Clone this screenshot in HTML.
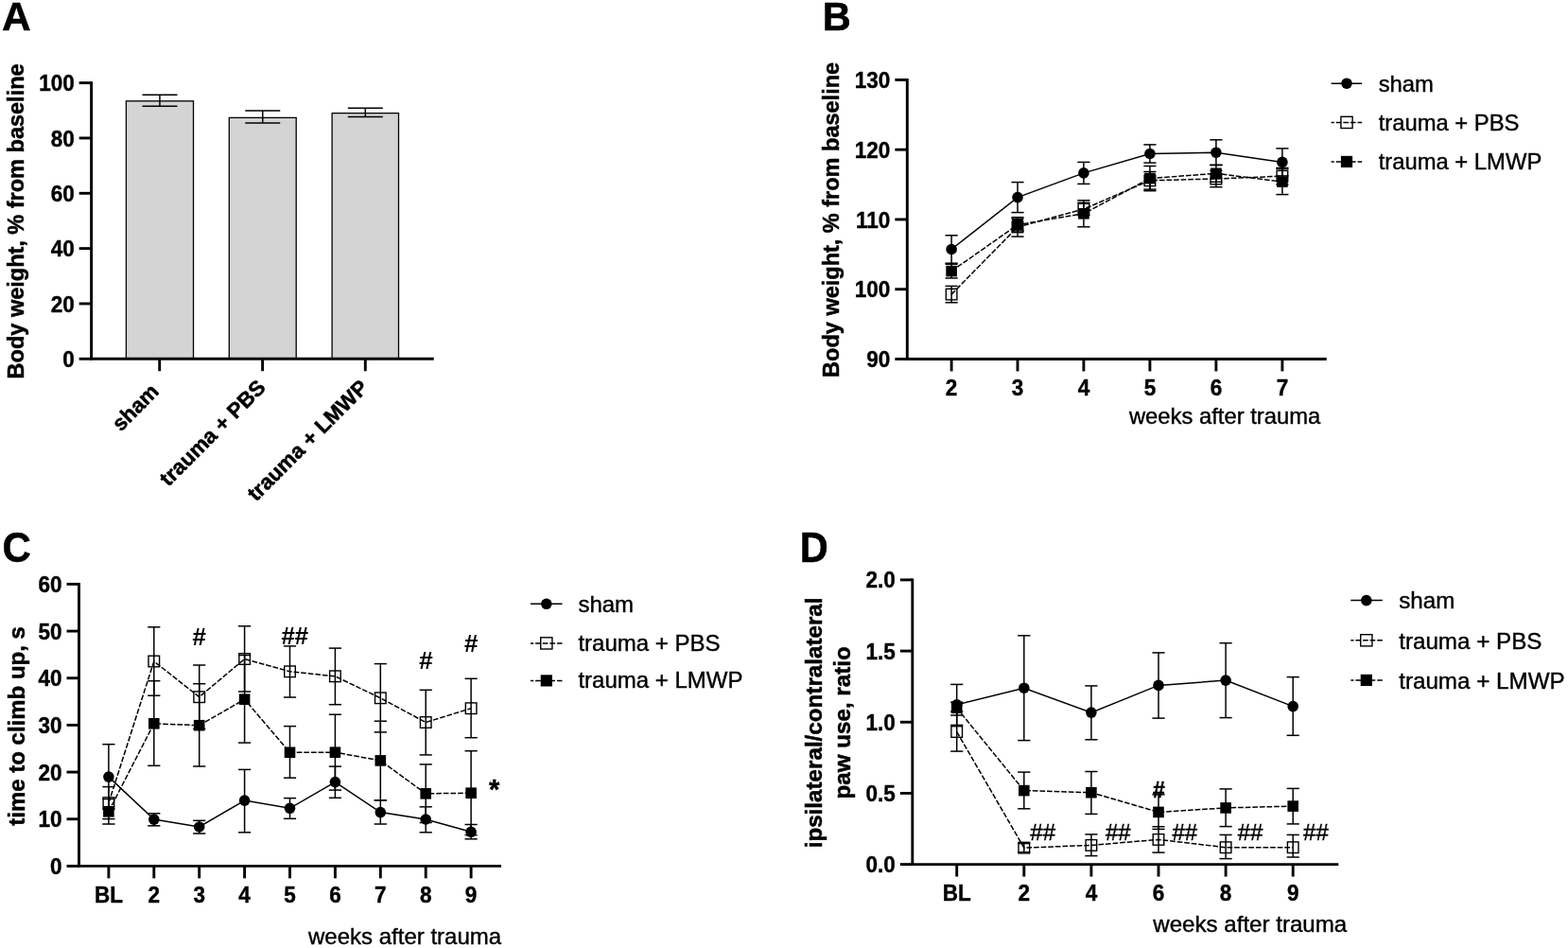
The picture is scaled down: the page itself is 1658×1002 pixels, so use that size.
<!DOCTYPE html>
<html lang="en"><head><meta charset="utf-8"><title>Figure</title>
<style>
html,body{margin:0;padding:0;background:#fff;}
body{width:1658px;height:1002px;overflow:hidden;}
svg{display:block;font-family:"Liberation Sans",Arial,Helvetica,sans-serif;fill:#000;}
</style></head><body>
<svg width="1658" height="1002" viewBox="0 0 1658 1002">
<rect x="0" y="0" width="1658" height="1002" fill="#fff"/>
<text transform="translate(1.90,32.30) scale(1,1.02)" font-size="42.5" font-weight="bold" stroke="#000" stroke-width="0.5" text-anchor="start" >A</text>
<text transform="translate(869.70,32.30) scale(1,1.04)" font-size="41.5" font-weight="bold" stroke="#000" stroke-width="0.5" text-anchor="start" >B</text>
<text transform="translate(2.40,593.60) scale(1,1.05)" font-size="42" font-weight="bold" stroke="#000" stroke-width="0.5" text-anchor="start" >C</text>
<text transform="translate(845.80,593.50) scale(1,1.06)" font-size="41.5" font-weight="bold" stroke="#000" stroke-width="0.5" text-anchor="start" >D</text>
<g id="panelA">
<rect x="133.40" y="106.80" width="71.10" height="272.50" fill="#d4d4d4" stroke="#000" stroke-width="1.3"/>
<line x1="168.95" y1="100.30" x2="168.95" y2="112.30" stroke="#000" stroke-width="1.5" />
<line x1="150.45" y1="100.30" x2="187.45" y2="100.30" stroke="#000" stroke-width="1.5" />
<line x1="150.45" y1="112.30" x2="187.45" y2="112.30" stroke="#000" stroke-width="1.5" />
<rect x="242.30" y="124.40" width="70.90" height="254.90" fill="#d4d4d4" stroke="#000" stroke-width="1.3"/>
<line x1="277.75" y1="117.10" x2="277.75" y2="130.10" stroke="#000" stroke-width="1.5" />
<line x1="259.25" y1="117.10" x2="296.25" y2="117.10" stroke="#000" stroke-width="1.5" />
<line x1="259.25" y1="130.10" x2="296.25" y2="130.10" stroke="#000" stroke-width="1.5" />
<rect x="351.10" y="119.60" width="70.40" height="259.70" fill="#d4d4d4" stroke="#000" stroke-width="1.3"/>
<line x1="386.30" y1="114.20" x2="386.30" y2="123.60" stroke="#000" stroke-width="1.5" />
<line x1="367.80" y1="114.20" x2="404.80" y2="114.20" stroke="#000" stroke-width="1.5" />
<line x1="367.80" y1="123.60" x2="404.80" y2="123.60" stroke="#000" stroke-width="1.5" />
<line x1="96.60" y1="86.15" x2="96.60" y2="380.75" stroke="#000" stroke-width="2.9" />
<line x1="83.65" y1="87.60" x2="96.60" y2="87.60" stroke="#000" stroke-width="2.9" />
<text transform="translate(78.65,96.18) scale(1,1.04)" font-size="22.5" font-weight="bold" stroke="#000" stroke-width="0.4" text-anchor="end" >100</text>
<line x1="83.65" y1="145.94" x2="96.60" y2="145.94" stroke="#000" stroke-width="2.9" />
<text transform="translate(78.65,154.52) scale(1,1.04)" font-size="22.5" font-weight="bold" stroke="#000" stroke-width="0.4" text-anchor="end" >80</text>
<line x1="83.65" y1="204.28" x2="96.60" y2="204.28" stroke="#000" stroke-width="2.9" />
<text transform="translate(78.65,212.86) scale(1,1.04)" font-size="22.5" font-weight="bold" stroke="#000" stroke-width="0.4" text-anchor="end" >60</text>
<line x1="83.65" y1="262.62" x2="96.60" y2="262.62" stroke="#000" stroke-width="2.9" />
<text transform="translate(78.65,271.20) scale(1,1.04)" font-size="22.5" font-weight="bold" stroke="#000" stroke-width="0.4" text-anchor="end" >40</text>
<line x1="83.65" y1="320.96" x2="96.60" y2="320.96" stroke="#000" stroke-width="2.9" />
<text transform="translate(78.65,329.54) scale(1,1.04)" font-size="22.5" font-weight="bold" stroke="#000" stroke-width="0.4" text-anchor="end" >20</text>
<line x1="83.65" y1="379.30" x2="96.60" y2="379.30" stroke="#000" stroke-width="2.9" />
<text transform="translate(78.65,387.88) scale(1,1.04)" font-size="22.5" font-weight="bold" stroke="#000" stroke-width="0.4" text-anchor="end" >0</text>
<line x1="95.15" y1="379.30" x2="458.70" y2="379.30" stroke="#000" stroke-width="2.9" />
<line x1="168.70" y1="379.30" x2="168.70" y2="392.25" stroke="#000" stroke-width="2.9" />
<line x1="277.60" y1="379.30" x2="277.60" y2="392.25" stroke="#000" stroke-width="2.9" />
<line x1="386.30" y1="379.30" x2="386.30" y2="392.25" stroke="#000" stroke-width="2.9" />
<text transform="translate(169.2,415.2) rotate(-45)" font-size="22.5" font-weight="bold" stroke="#000" stroke-width="0.5" text-anchor="end">sham</text>
<text transform="translate(282.0,411.0) rotate(-45)" font-size="22.5" font-weight="bold" stroke="#000" stroke-width="0.5" text-anchor="end">trauma + PBS</text>
<text transform="translate(390.5,411.0) rotate(-45)" font-size="22.5" font-weight="bold" stroke="#000" stroke-width="0.5" text-anchor="end">trauma + LMWP</text>
<text transform="translate(25.2,233.9) rotate(-90)" font-size="23.5" font-weight="bold" stroke="#000" stroke-width="0.5" text-anchor="middle">Body weight, % from baseline</text>
</g>
<g id="panelB">
<line x1="959.30" y1="82.95" x2="959.30" y2="380.95" stroke="#000" stroke-width="2.9" />
<line x1="946.35" y1="84.40" x2="959.30" y2="84.40" stroke="#000" stroke-width="2.9" />
<text transform="translate(941.35,92.98) scale(1,1.04)" font-size="22.5" font-weight="bold" stroke="#000" stroke-width="0.4" text-anchor="end" >130</text>
<line x1="946.35" y1="158.18" x2="959.30" y2="158.18" stroke="#000" stroke-width="2.9" />
<text transform="translate(941.35,166.75) scale(1,1.04)" font-size="22.5" font-weight="bold" stroke="#000" stroke-width="0.4" text-anchor="end" >120</text>
<line x1="946.35" y1="231.95" x2="959.30" y2="231.95" stroke="#000" stroke-width="2.9" />
<text transform="translate(941.35,240.53) scale(1,1.04)" font-size="22.5" font-weight="bold" stroke="#000" stroke-width="0.4" text-anchor="end" >110</text>
<line x1="946.35" y1="305.73" x2="959.30" y2="305.73" stroke="#000" stroke-width="2.9" />
<text transform="translate(941.35,314.30) scale(1,1.04)" font-size="22.5" font-weight="bold" stroke="#000" stroke-width="0.4" text-anchor="end" >100</text>
<line x1="946.35" y1="379.50" x2="959.30" y2="379.50" stroke="#000" stroke-width="2.9" />
<text transform="translate(941.35,388.08) scale(1,1.04)" font-size="22.5" font-weight="bold" stroke="#000" stroke-width="0.4" text-anchor="end" >90</text>
<line x1="957.85" y1="379.50" x2="1402.70" y2="379.50" stroke="#000" stroke-width="2.9" />
<line x1="1006.10" y1="379.50" x2="1006.10" y2="392.45" stroke="#000" stroke-width="2.9" />
<text transform="translate(1006.10,417.60) scale(1,1.04)" font-size="22.5" font-weight="bold" stroke="#000" stroke-width="0.4" text-anchor="middle" >2</text>
<line x1="1076.00" y1="379.50" x2="1076.00" y2="392.45" stroke="#000" stroke-width="2.9" />
<text transform="translate(1076.00,417.60) scale(1,1.04)" font-size="22.5" font-weight="bold" stroke="#000" stroke-width="0.4" text-anchor="middle" >3</text>
<line x1="1145.90" y1="379.50" x2="1145.90" y2="392.45" stroke="#000" stroke-width="2.9" />
<text transform="translate(1145.90,417.60) scale(1,1.04)" font-size="22.5" font-weight="bold" stroke="#000" stroke-width="0.4" text-anchor="middle" >4</text>
<line x1="1215.90" y1="379.50" x2="1215.90" y2="392.45" stroke="#000" stroke-width="2.9" />
<text transform="translate(1215.90,417.60) scale(1,1.04)" font-size="22.5" font-weight="bold" stroke="#000" stroke-width="0.4" text-anchor="middle" >5</text>
<line x1="1285.90" y1="379.50" x2="1285.90" y2="392.45" stroke="#000" stroke-width="2.9" />
<text transform="translate(1285.90,417.60) scale(1,1.04)" font-size="22.5" font-weight="bold" stroke="#000" stroke-width="0.4" text-anchor="middle" >6</text>
<line x1="1355.90" y1="379.50" x2="1355.90" y2="392.45" stroke="#000" stroke-width="2.9" />
<text transform="translate(1355.90,417.60) scale(1,1.04)" font-size="22.5" font-weight="bold" stroke="#000" stroke-width="0.4" text-anchor="middle" >7</text>
<line x1="1006.10" y1="248.80" x2="1006.10" y2="278.20" stroke="#000" stroke-width="1.5" />
<line x1="999.50" y1="248.80" x2="1012.70" y2="248.80" stroke="#000" stroke-width="1.5" />
<line x1="999.50" y1="278.20" x2="1012.70" y2="278.20" stroke="#000" stroke-width="1.5" />
<line x1="1076.00" y1="192.60" x2="1076.00" y2="224.60" stroke="#000" stroke-width="1.5" />
<line x1="1069.40" y1="192.60" x2="1082.60" y2="192.60" stroke="#000" stroke-width="1.5" />
<line x1="1069.40" y1="224.60" x2="1082.60" y2="224.60" stroke="#000" stroke-width="1.5" />
<line x1="1145.90" y1="171.40" x2="1145.90" y2="194.40" stroke="#000" stroke-width="1.5" />
<line x1="1139.30" y1="171.40" x2="1152.50" y2="171.40" stroke="#000" stroke-width="1.5" />
<line x1="1139.30" y1="194.40" x2="1152.50" y2="194.40" stroke="#000" stroke-width="1.5" />
<line x1="1215.90" y1="152.90" x2="1215.90" y2="172.10" stroke="#000" stroke-width="1.5" />
<line x1="1209.30" y1="152.90" x2="1222.50" y2="152.90" stroke="#000" stroke-width="1.5" />
<line x1="1209.30" y1="172.10" x2="1222.50" y2="172.10" stroke="#000" stroke-width="1.5" />
<line x1="1285.90" y1="147.80" x2="1285.90" y2="174.60" stroke="#000" stroke-width="1.5" />
<line x1="1279.30" y1="147.80" x2="1292.50" y2="147.80" stroke="#000" stroke-width="1.5" />
<line x1="1279.30" y1="174.60" x2="1292.50" y2="174.60" stroke="#000" stroke-width="1.5" />
<line x1="1355.90" y1="156.90" x2="1355.90" y2="185.90" stroke="#000" stroke-width="1.5" />
<line x1="1349.30" y1="156.90" x2="1362.50" y2="156.90" stroke="#000" stroke-width="1.5" />
<line x1="1349.30" y1="185.90" x2="1362.50" y2="185.90" stroke="#000" stroke-width="1.5" />
<polyline points="1006.10,263.50 1076.00,208.60 1145.90,182.90 1215.90,162.50 1285.90,161.20 1355.90,171.40" fill="none" stroke="#000" stroke-width="1.5"/>
<circle cx="1006.10" cy="263.50" r="5.8" fill="#000"/>
<circle cx="1076.00" cy="208.60" r="5.8" fill="#000"/>
<circle cx="1145.90" cy="182.90" r="5.8" fill="#000"/>
<circle cx="1215.90" cy="162.50" r="5.8" fill="#000"/>
<circle cx="1285.90" cy="161.20" r="5.8" fill="#000"/>
<circle cx="1355.90" cy="171.40" r="5.8" fill="#000"/>
<line x1="1006.10" y1="302.40" x2="1006.10" y2="319.80" stroke="#000" stroke-width="1.5" />
<line x1="999.50" y1="302.40" x2="1012.70" y2="302.40" stroke="#000" stroke-width="1.5" />
<line x1="999.50" y1="319.80" x2="1012.70" y2="319.80" stroke="#000" stroke-width="1.5" />
<line x1="1076.00" y1="229.70" x2="1076.00" y2="250.10" stroke="#000" stroke-width="1.5" />
<line x1="1069.40" y1="229.70" x2="1082.60" y2="229.70" stroke="#000" stroke-width="1.5" />
<line x1="1069.40" y1="250.10" x2="1082.60" y2="250.10" stroke="#000" stroke-width="1.5" />
<line x1="1145.90" y1="214.30" x2="1145.90" y2="227.70" stroke="#000" stroke-width="1.5" />
<line x1="1139.30" y1="214.30" x2="1152.50" y2="214.30" stroke="#000" stroke-width="1.5" />
<line x1="1139.30" y1="227.70" x2="1152.50" y2="227.70" stroke="#000" stroke-width="1.5" />
<line x1="1215.90" y1="181.50" x2="1215.90" y2="200.10" stroke="#000" stroke-width="1.5" />
<line x1="1209.30" y1="181.50" x2="1222.50" y2="181.50" stroke="#000" stroke-width="1.5" />
<line x1="1209.30" y1="200.10" x2="1222.50" y2="200.10" stroke="#000" stroke-width="1.5" />
<line x1="1285.90" y1="180.30" x2="1285.90" y2="197.70" stroke="#000" stroke-width="1.5" />
<line x1="1279.30" y1="180.30" x2="1292.50" y2="180.30" stroke="#000" stroke-width="1.5" />
<line x1="1279.30" y1="197.70" x2="1292.50" y2="197.70" stroke="#000" stroke-width="1.5" />
<line x1="1355.90" y1="177.40" x2="1355.90" y2="195.00" stroke="#000" stroke-width="1.5" />
<line x1="1349.30" y1="177.40" x2="1362.50" y2="177.40" stroke="#000" stroke-width="1.5" />
<line x1="1349.30" y1="195.00" x2="1362.50" y2="195.00" stroke="#000" stroke-width="1.5" />
<polyline points="1006.10,311.10 1076.00,239.90 1145.90,221.00 1215.90,190.80 1285.90,189.00 1355.90,186.20" fill="none" stroke="#000" stroke-width="1.5" stroke-dasharray="5.7 1.9"/>
<rect x="1000.30" y="305.30" width="11.6" height="11.6" fill="none" stroke="#000" stroke-width="1.4"/>
<rect x="1070.20" y="234.10" width="11.6" height="11.6" fill="none" stroke="#000" stroke-width="1.4"/>
<rect x="1140.10" y="215.20" width="11.6" height="11.6" fill="none" stroke="#000" stroke-width="1.4"/>
<rect x="1210.10" y="185.00" width="11.6" height="11.6" fill="none" stroke="#000" stroke-width="1.4"/>
<rect x="1280.10" y="183.20" width="11.6" height="11.6" fill="none" stroke="#000" stroke-width="1.4"/>
<rect x="1350.10" y="180.40" width="11.6" height="11.6" fill="none" stroke="#000" stroke-width="1.4"/>
<line x1="1006.10" y1="279.20" x2="1006.10" y2="294.00" stroke="#000" stroke-width="1.5" />
<line x1="999.50" y1="279.20" x2="1012.70" y2="279.20" stroke="#000" stroke-width="1.5" />
<line x1="999.50" y1="294.00" x2="1012.70" y2="294.00" stroke="#000" stroke-width="1.5" />
<line x1="1076.00" y1="231.20" x2="1076.00" y2="244.00" stroke="#000" stroke-width="1.5" />
<line x1="1069.40" y1="231.20" x2="1082.60" y2="231.20" stroke="#000" stroke-width="1.5" />
<line x1="1069.40" y1="244.00" x2="1082.60" y2="244.00" stroke="#000" stroke-width="1.5" />
<line x1="1145.90" y1="211.80" x2="1145.90" y2="239.80" stroke="#000" stroke-width="1.5" />
<line x1="1139.30" y1="211.80" x2="1152.50" y2="211.80" stroke="#000" stroke-width="1.5" />
<line x1="1139.30" y1="239.80" x2="1152.50" y2="239.80" stroke="#000" stroke-width="1.5" />
<line x1="1215.90" y1="175.50" x2="1215.90" y2="201.70" stroke="#000" stroke-width="1.5" />
<line x1="1209.30" y1="175.50" x2="1222.50" y2="175.50" stroke="#000" stroke-width="1.5" />
<line x1="1209.30" y1="201.70" x2="1222.50" y2="201.70" stroke="#000" stroke-width="1.5" />
<line x1="1285.90" y1="174.30" x2="1285.90" y2="192.30" stroke="#000" stroke-width="1.5" />
<line x1="1279.30" y1="174.30" x2="1292.50" y2="174.30" stroke="#000" stroke-width="1.5" />
<line x1="1279.30" y1="192.30" x2="1292.50" y2="192.30" stroke="#000" stroke-width="1.5" />
<line x1="1355.90" y1="178.60" x2="1355.90" y2="205.60" stroke="#000" stroke-width="1.5" />
<line x1="1349.30" y1="178.60" x2="1362.50" y2="178.60" stroke="#000" stroke-width="1.5" />
<line x1="1349.30" y1="205.60" x2="1362.50" y2="205.60" stroke="#000" stroke-width="1.5" />
<polyline points="1006.10,286.60 1076.00,237.60 1145.90,225.80 1215.90,188.60 1285.90,183.30 1355.90,192.10" fill="none" stroke="#000" stroke-width="1.5" stroke-dasharray="5.7 1.9"/>
<rect x="1000.30" y="280.80" width="11.6" height="11.6" fill="#000"/>
<rect x="1070.20" y="231.80" width="11.6" height="11.6" fill="#000"/>
<rect x="1140.10" y="220.00" width="11.6" height="11.6" fill="#000"/>
<rect x="1210.10" y="182.80" width="11.6" height="11.6" fill="#000"/>
<rect x="1280.10" y="177.50" width="11.6" height="11.6" fill="#000"/>
<rect x="1350.10" y="186.30" width="11.6" height="11.6" fill="#000"/>
<text x="1396.30" y="447.80" font-size="23.8" stroke="#000" stroke-width="0.4" text-anchor="end" >weeks after trauma</text>
<text transform="translate(886.6,232.4) rotate(-90)" font-size="23.5" font-weight="bold" stroke="#000" stroke-width="0.5" text-anchor="middle">Body weight, % from baseline</text>
<line x1="1407.60" y1="88.20" x2="1440.20" y2="88.20" stroke="#000" stroke-width="1.5" />
<circle cx="1424.00" cy="88.20" r="5.8" fill="#000"/>
<text x="1457.70" y="96.60" font-size="23.8" stroke="#000" stroke-width="0.4" text-anchor="start" >sham</text>
<line x1="1407.60" y1="129.40" x2="1440.20" y2="129.40" stroke="#000" stroke-width="1.5" stroke-dasharray="5.7 1.9" stroke-dashoffset="2.5"/>
<rect x="1417.90" y="123.30" width="12.2" height="12.2" fill="none" stroke="#000" stroke-width="1.4"/>
<text x="1457.70" y="138.00" font-size="23.8" stroke="#000" stroke-width="0.4" text-anchor="start" >trauma + PBS</text>
<line x1="1407.60" y1="170.90" x2="1440.20" y2="170.90" stroke="#000" stroke-width="1.5" stroke-dasharray="5.7 1.9" stroke-dashoffset="2.5"/>
<rect x="1417.90" y="164.80" width="12.2" height="12.2" fill="#000"/>
<text x="1457.70" y="179.40" font-size="23.8" stroke="#000" stroke-width="0.4" text-anchor="start" >trauma + LMWP</text>
</g>
<g id="panelC">
<line x1="83.50" y1="615.95" x2="83.50" y2="916.85" stroke="#000" stroke-width="2.9" />
<line x1="70.55" y1="617.40" x2="83.50" y2="617.40" stroke="#000" stroke-width="2.9" />
<text transform="translate(65.55,625.98) scale(1,1.04)" font-size="22.5" font-weight="bold" stroke="#000" stroke-width="0.4" text-anchor="end" >60</text>
<line x1="70.55" y1="667.07" x2="83.50" y2="667.07" stroke="#000" stroke-width="2.9" />
<text transform="translate(65.55,675.64) scale(1,1.04)" font-size="22.5" font-weight="bold" stroke="#000" stroke-width="0.4" text-anchor="end" >50</text>
<line x1="70.55" y1="716.73" x2="83.50" y2="716.73" stroke="#000" stroke-width="2.9" />
<text transform="translate(65.55,725.31) scale(1,1.04)" font-size="22.5" font-weight="bold" stroke="#000" stroke-width="0.4" text-anchor="end" >40</text>
<line x1="70.55" y1="766.40" x2="83.50" y2="766.40" stroke="#000" stroke-width="2.9" />
<text transform="translate(65.55,774.98) scale(1,1.04)" font-size="22.5" font-weight="bold" stroke="#000" stroke-width="0.4" text-anchor="end" >30</text>
<line x1="70.55" y1="816.07" x2="83.50" y2="816.07" stroke="#000" stroke-width="2.9" />
<text transform="translate(65.55,824.64) scale(1,1.04)" font-size="22.5" font-weight="bold" stroke="#000" stroke-width="0.4" text-anchor="end" >20</text>
<line x1="70.55" y1="865.73" x2="83.50" y2="865.73" stroke="#000" stroke-width="2.9" />
<text transform="translate(65.55,874.31) scale(1,1.04)" font-size="22.5" font-weight="bold" stroke="#000" stroke-width="0.4" text-anchor="end" >10</text>
<line x1="70.55" y1="915.40" x2="83.50" y2="915.40" stroke="#000" stroke-width="2.9" />
<text transform="translate(65.55,923.98) scale(1,1.04)" font-size="22.5" font-weight="bold" stroke="#000" stroke-width="0.4" text-anchor="end" >0</text>
<line x1="82.05" y1="915.40" x2="530.00" y2="915.40" stroke="#000" stroke-width="2.9" />
<line x1="114.90" y1="915.40" x2="114.90" y2="928.35" stroke="#000" stroke-width="2.9" />
<text transform="translate(114.90,953.60) scale(1,1.04)" font-size="22.5" font-weight="bold" stroke="#000" stroke-width="0.4" text-anchor="middle" >BL</text>
<line x1="162.80" y1="915.40" x2="162.80" y2="928.35" stroke="#000" stroke-width="2.9" />
<text transform="translate(162.80,953.60) scale(1,1.04)" font-size="22.5" font-weight="bold" stroke="#000" stroke-width="0.4" text-anchor="middle" >2</text>
<line x1="210.70" y1="915.40" x2="210.70" y2="928.35" stroke="#000" stroke-width="2.9" />
<text transform="translate(210.70,953.60) scale(1,1.04)" font-size="22.5" font-weight="bold" stroke="#000" stroke-width="0.4" text-anchor="middle" >3</text>
<line x1="258.60" y1="915.40" x2="258.60" y2="928.35" stroke="#000" stroke-width="2.9" />
<text transform="translate(258.60,953.60) scale(1,1.04)" font-size="22.5" font-weight="bold" stroke="#000" stroke-width="0.4" text-anchor="middle" >4</text>
<line x1="306.50" y1="915.40" x2="306.50" y2="928.35" stroke="#000" stroke-width="2.9" />
<text transform="translate(306.50,953.60) scale(1,1.04)" font-size="22.5" font-weight="bold" stroke="#000" stroke-width="0.4" text-anchor="middle" >5</text>
<line x1="354.40" y1="915.40" x2="354.40" y2="928.35" stroke="#000" stroke-width="2.9" />
<text transform="translate(354.40,953.60) scale(1,1.04)" font-size="22.5" font-weight="bold" stroke="#000" stroke-width="0.4" text-anchor="middle" >6</text>
<line x1="402.30" y1="915.40" x2="402.30" y2="928.35" stroke="#000" stroke-width="2.9" />
<text transform="translate(402.30,953.60) scale(1,1.04)" font-size="22.5" font-weight="bold" stroke="#000" stroke-width="0.4" text-anchor="middle" >7</text>
<line x1="450.20" y1="915.40" x2="450.20" y2="928.35" stroke="#000" stroke-width="2.9" />
<text transform="translate(450.20,953.60) scale(1,1.04)" font-size="22.5" font-weight="bold" stroke="#000" stroke-width="0.4" text-anchor="middle" >8</text>
<line x1="498.10" y1="915.40" x2="498.10" y2="928.35" stroke="#000" stroke-width="2.9" />
<text transform="translate(498.10,953.60) scale(1,1.04)" font-size="22.5" font-weight="bold" stroke="#000" stroke-width="0.4" text-anchor="middle" >9</text>
<line x1="114.90" y1="786.70" x2="114.90" y2="855.50" stroke="#000" stroke-width="1.5" />
<line x1="108.30" y1="786.70" x2="121.50" y2="786.70" stroke="#000" stroke-width="1.5" />
<line x1="108.30" y1="855.50" x2="121.50" y2="855.50" stroke="#000" stroke-width="1.5" />
<line x1="162.80" y1="859.80" x2="162.80" y2="872.80" stroke="#000" stroke-width="1.5" />
<line x1="156.20" y1="859.80" x2="169.40" y2="859.80" stroke="#000" stroke-width="1.5" />
<line x1="156.20" y1="872.80" x2="169.40" y2="872.80" stroke="#000" stroke-width="1.5" />
<line x1="210.70" y1="867.30" x2="210.70" y2="881.00" stroke="#000" stroke-width="1.5" />
<line x1="204.10" y1="867.30" x2="217.30" y2="867.30" stroke="#000" stroke-width="1.5" />
<line x1="204.10" y1="881.00" x2="217.30" y2="881.00" stroke="#000" stroke-width="1.5" />
<line x1="258.60" y1="813.40" x2="258.60" y2="879.80" stroke="#000" stroke-width="1.5" />
<line x1="252.00" y1="813.40" x2="265.20" y2="813.40" stroke="#000" stroke-width="1.5" />
<line x1="252.00" y1="879.80" x2="265.20" y2="879.80" stroke="#000" stroke-width="1.5" />
<line x1="306.50" y1="843.60" x2="306.50" y2="865.30" stroke="#000" stroke-width="1.5" />
<line x1="299.90" y1="843.60" x2="313.10" y2="843.60" stroke="#000" stroke-width="1.5" />
<line x1="299.90" y1="865.30" x2="313.10" y2="865.30" stroke="#000" stroke-width="1.5" />
<line x1="354.40" y1="810.10" x2="354.40" y2="843.30" stroke="#000" stroke-width="1.5" />
<line x1="347.80" y1="810.10" x2="361.00" y2="810.10" stroke="#000" stroke-width="1.5" />
<line x1="347.80" y1="843.30" x2="361.00" y2="843.30" stroke="#000" stroke-width="1.5" />
<line x1="402.30" y1="845.80" x2="402.30" y2="871.00" stroke="#000" stroke-width="1.5" />
<line x1="395.70" y1="845.80" x2="408.90" y2="845.80" stroke="#000" stroke-width="1.5" />
<line x1="395.70" y1="871.00" x2="408.90" y2="871.00" stroke="#000" stroke-width="1.5" />
<line x1="450.20" y1="852.80" x2="450.20" y2="879.80" stroke="#000" stroke-width="1.5" />
<line x1="443.60" y1="852.80" x2="456.80" y2="852.80" stroke="#000" stroke-width="1.5" />
<line x1="443.60" y1="879.80" x2="456.80" y2="879.80" stroke="#000" stroke-width="1.5" />
<line x1="498.10" y1="871.50" x2="498.10" y2="886.80" stroke="#000" stroke-width="1.5" />
<line x1="491.50" y1="871.50" x2="504.70" y2="871.50" stroke="#000" stroke-width="1.5" />
<line x1="491.50" y1="886.80" x2="504.70" y2="886.80" stroke="#000" stroke-width="1.5" />
<polyline points="114.90,821.10 162.80,866.10 210.70,874.00 258.60,846.10 306.50,854.30 354.40,826.60 402.30,858.60 450.20,866.00 498.10,879.30" fill="none" stroke="#000" stroke-width="1.5"/>
<circle cx="114.90" cy="821.10" r="5.8" fill="#000"/>
<circle cx="162.80" cy="866.10" r="5.8" fill="#000"/>
<circle cx="210.70" cy="874.00" r="5.8" fill="#000"/>
<circle cx="258.60" cy="846.10" r="5.8" fill="#000"/>
<circle cx="306.50" cy="854.30" r="5.8" fill="#000"/>
<circle cx="354.40" cy="826.60" r="5.8" fill="#000"/>
<circle cx="402.30" cy="858.60" r="5.8" fill="#000"/>
<circle cx="450.20" cy="866.00" r="5.8" fill="#000"/>
<circle cx="498.10" cy="879.30" r="5.8" fill="#000"/>
<line x1="114.90" y1="831.60" x2="114.90" y2="865.60" stroke="#000" stroke-width="1.5" />
<line x1="108.30" y1="831.60" x2="121.50" y2="831.60" stroke="#000" stroke-width="1.5" />
<line x1="108.30" y1="865.60" x2="121.50" y2="865.60" stroke="#000" stroke-width="1.5" />
<line x1="162.80" y1="662.80" x2="162.80" y2="735.20" stroke="#000" stroke-width="1.5" />
<line x1="156.20" y1="662.80" x2="169.40" y2="662.80" stroke="#000" stroke-width="1.5" />
<line x1="156.20" y1="735.20" x2="169.40" y2="735.20" stroke="#000" stroke-width="1.5" />
<line x1="210.70" y1="703.00" x2="210.70" y2="770.40" stroke="#000" stroke-width="1.5" />
<line x1="204.10" y1="703.00" x2="217.30" y2="703.00" stroke="#000" stroke-width="1.5" />
<line x1="204.10" y1="770.40" x2="217.30" y2="770.40" stroke="#000" stroke-width="1.5" />
<line x1="258.60" y1="661.80" x2="258.60" y2="731.00" stroke="#000" stroke-width="1.5" />
<line x1="252.00" y1="661.80" x2="265.20" y2="661.80" stroke="#000" stroke-width="1.5" />
<line x1="252.00" y1="731.00" x2="265.20" y2="731.00" stroke="#000" stroke-width="1.5" />
<line x1="306.50" y1="682.90" x2="306.50" y2="737.00" stroke="#000" stroke-width="1.5" />
<line x1="299.90" y1="682.90" x2="313.10" y2="682.90" stroke="#000" stroke-width="1.5" />
<line x1="299.90" y1="737.00" x2="313.10" y2="737.00" stroke="#000" stroke-width="1.5" />
<line x1="354.40" y1="685.10" x2="354.40" y2="744.70" stroke="#000" stroke-width="1.5" />
<line x1="347.80" y1="685.10" x2="361.00" y2="685.10" stroke="#000" stroke-width="1.5" />
<line x1="347.80" y1="744.70" x2="361.00" y2="744.70" stroke="#000" stroke-width="1.5" />
<line x1="402.30" y1="701.60" x2="402.30" y2="773.90" stroke="#000" stroke-width="1.5" />
<line x1="395.70" y1="701.60" x2="408.90" y2="701.60" stroke="#000" stroke-width="1.5" />
<line x1="395.70" y1="773.90" x2="408.90" y2="773.90" stroke="#000" stroke-width="1.5" />
<line x1="450.20" y1="729.30" x2="450.20" y2="797.90" stroke="#000" stroke-width="1.5" />
<line x1="443.60" y1="729.30" x2="456.80" y2="729.30" stroke="#000" stroke-width="1.5" />
<line x1="443.60" y1="797.90" x2="456.80" y2="797.90" stroke="#000" stroke-width="1.5" />
<line x1="498.10" y1="717.30" x2="498.10" y2="779.70" stroke="#000" stroke-width="1.5" />
<line x1="491.50" y1="717.30" x2="504.70" y2="717.30" stroke="#000" stroke-width="1.5" />
<line x1="491.50" y1="779.70" x2="504.70" y2="779.70" stroke="#000" stroke-width="1.5" />
<polyline points="114.90,848.60 162.80,699.00 210.70,736.70 258.60,696.50 306.50,709.80 354.40,714.80 402.30,737.80 450.20,763.50 498.10,748.70" fill="none" stroke="#000" stroke-width="1.5" stroke-dasharray="5.7 1.9"/>
<rect x="109.10" y="842.80" width="11.6" height="11.6" fill="none" stroke="#000" stroke-width="1.4"/>
<rect x="157.00" y="693.20" width="11.6" height="11.6" fill="none" stroke="#000" stroke-width="1.4"/>
<rect x="204.90" y="730.90" width="11.6" height="11.6" fill="none" stroke="#000" stroke-width="1.4"/>
<rect x="252.80" y="690.70" width="11.6" height="11.6" fill="none" stroke="#000" stroke-width="1.4"/>
<rect x="300.70" y="704.00" width="11.6" height="11.6" fill="none" stroke="#000" stroke-width="1.4"/>
<rect x="348.60" y="709.00" width="11.6" height="11.6" fill="none" stroke="#000" stroke-width="1.4"/>
<rect x="396.50" y="732.00" width="11.6" height="11.6" fill="none" stroke="#000" stroke-width="1.4"/>
<rect x="444.40" y="757.70" width="11.6" height="11.6" fill="none" stroke="#000" stroke-width="1.4"/>
<rect x="492.30" y="742.90" width="11.6" height="11.6" fill="none" stroke="#000" stroke-width="1.4"/>
<line x1="114.90" y1="844.50" x2="114.90" y2="871.00" stroke="#000" stroke-width="1.5" />
<line x1="108.30" y1="844.50" x2="121.50" y2="844.50" stroke="#000" stroke-width="1.5" />
<line x1="108.30" y1="871.00" x2="121.50" y2="871.00" stroke="#000" stroke-width="1.5" />
<line x1="162.80" y1="719.70" x2="162.80" y2="809.30" stroke="#000" stroke-width="1.5" />
<line x1="156.20" y1="719.70" x2="169.40" y2="719.70" stroke="#000" stroke-width="1.5" />
<line x1="156.20" y1="809.30" x2="169.40" y2="809.30" stroke="#000" stroke-width="1.5" />
<line x1="210.70" y1="722.70" x2="210.70" y2="810.00" stroke="#000" stroke-width="1.5" />
<line x1="204.10" y1="722.70" x2="217.30" y2="722.70" stroke="#000" stroke-width="1.5" />
<line x1="204.10" y1="810.00" x2="217.30" y2="810.00" stroke="#000" stroke-width="1.5" />
<line x1="258.60" y1="692.50" x2="258.60" y2="785.10" stroke="#000" stroke-width="1.5" />
<line x1="252.00" y1="692.50" x2="265.20" y2="692.50" stroke="#000" stroke-width="1.5" />
<line x1="252.00" y1="785.10" x2="265.20" y2="785.10" stroke="#000" stroke-width="1.5" />
<line x1="306.50" y1="767.60" x2="306.50" y2="822.20" stroke="#000" stroke-width="1.5" />
<line x1="299.90" y1="767.60" x2="313.10" y2="767.60" stroke="#000" stroke-width="1.5" />
<line x1="299.90" y1="822.20" x2="313.10" y2="822.20" stroke="#000" stroke-width="1.5" />
<line x1="354.40" y1="755.20" x2="354.40" y2="835.10" stroke="#000" stroke-width="1.5" />
<line x1="347.80" y1="755.20" x2="361.00" y2="755.20" stroke="#000" stroke-width="1.5" />
<line x1="347.80" y1="835.10" x2="361.00" y2="835.10" stroke="#000" stroke-width="1.5" />
<line x1="402.30" y1="762.20" x2="402.30" y2="845.80" stroke="#000" stroke-width="1.5" />
<line x1="395.70" y1="762.20" x2="408.90" y2="762.20" stroke="#000" stroke-width="1.5" />
<line x1="395.70" y1="845.80" x2="408.90" y2="845.80" stroke="#000" stroke-width="1.5" />
<line x1="450.20" y1="807.90" x2="450.20" y2="869.50" stroke="#000" stroke-width="1.5" />
<line x1="443.60" y1="807.90" x2="456.80" y2="807.90" stroke="#000" stroke-width="1.5" />
<line x1="443.60" y1="869.50" x2="456.80" y2="869.50" stroke="#000" stroke-width="1.5" />
<line x1="498.10" y1="793.70" x2="498.10" y2="882.60" stroke="#000" stroke-width="1.5" />
<line x1="491.50" y1="793.70" x2="504.70" y2="793.70" stroke="#000" stroke-width="1.5" />
<line x1="491.50" y1="882.60" x2="504.70" y2="882.60" stroke="#000" stroke-width="1.5" />
<polyline points="114.90,857.80 162.80,764.80 210.70,766.70 258.60,739.20 306.50,795.30 354.40,795.20 402.30,803.90 450.20,838.80 498.10,838.20" fill="none" stroke="#000" stroke-width="1.5" stroke-dasharray="5.7 1.9"/>
<rect x="109.10" y="852.00" width="11.6" height="11.6" fill="#000"/>
<rect x="157.00" y="759.00" width="11.6" height="11.6" fill="#000"/>
<rect x="204.90" y="760.90" width="11.6" height="11.6" fill="#000"/>
<rect x="252.80" y="733.40" width="11.6" height="11.6" fill="#000"/>
<rect x="300.70" y="789.50" width="11.6" height="11.6" fill="#000"/>
<rect x="348.60" y="789.40" width="11.6" height="11.6" fill="#000"/>
<rect x="396.50" y="798.10" width="11.6" height="11.6" fill="#000"/>
<rect x="444.40" y="833.00" width="11.6" height="11.6" fill="#000"/>
<rect x="492.30" y="832.40" width="11.6" height="11.6" fill="#000"/>
<text x="210.70" y="682.30" font-size="25.8" font-weight="bold" stroke="#000" stroke-width="0.1" text-anchor="middle" >#</text>
<text x="311.80" y="680.60" font-size="25.6" font-weight="bold" stroke="#000" stroke-width="0.1" text-anchor="middle" >##</text>
<text x="450.50" y="707.30" font-size="25.8" font-weight="bold" stroke="#000" stroke-width="0.1" text-anchor="middle" >#</text>
<text x="498.10" y="688.60" font-size="25.8" font-weight="bold" stroke="#000" stroke-width="0.1" text-anchor="middle" >#</text>
<text x="522.70" y="843.50" font-size="29" font-weight="bold" stroke="#000" stroke-width="0.5" text-anchor="middle" >*</text>
<text x="326.00" y="998.30" font-size="24.0" stroke="#000" stroke-width="0.4" text-anchor="start" >weeks after trauma</text>
<text transform="translate(25.9,767.4) rotate(-90)" font-size="24.0" font-weight="bold" stroke="#000" stroke-width="0.5" text-anchor="middle">time to climb up, s</text>
<line x1="561.00" y1="638.30" x2="594.50" y2="638.30" stroke="#000" stroke-width="1.5" />
<circle cx="577.80" cy="638.30" r="5.8" fill="#000"/>
<text x="611.40" y="646.80" font-size="24.0" stroke="#000" stroke-width="0.4" text-anchor="start" >sham</text>
<line x1="561.00" y1="679.90" x2="594.50" y2="679.90" stroke="#000" stroke-width="1.5" stroke-dasharray="5.7 1.9" stroke-dashoffset="2.5"/>
<rect x="571.70" y="673.80" width="12.2" height="12.2" fill="none" stroke="#000" stroke-width="1.4"/>
<text x="611.40" y="688.00" font-size="24.0" stroke="#000" stroke-width="0.4" text-anchor="start" >trauma + PBS</text>
<line x1="561.00" y1="719.40" x2="594.50" y2="719.40" stroke="#000" stroke-width="1.5" stroke-dasharray="5.7 1.9" stroke-dashoffset="2.5"/>
<rect x="571.70" y="713.30" width="12.2" height="12.2" fill="#000"/>
<text x="611.40" y="727.40" font-size="24.0" stroke="#000" stroke-width="0.4" text-anchor="start" >trauma + LMWP</text>
</g>
<g id="panelD">
<line x1="964.80" y1="611.45" x2="964.80" y2="915.05" stroke="#000" stroke-width="2.9" />
<line x1="951.85" y1="612.90" x2="964.80" y2="612.90" stroke="#000" stroke-width="2.9" />
<text transform="translate(946.85,621.48) scale(1,1.04)" font-size="22.5" font-weight="bold" stroke="#000" stroke-width="0.4" text-anchor="end" >2.0</text>
<line x1="951.85" y1="688.08" x2="964.80" y2="688.08" stroke="#000" stroke-width="2.9" />
<text transform="translate(946.85,696.65) scale(1,1.04)" font-size="22.5" font-weight="bold" stroke="#000" stroke-width="0.4" text-anchor="end" >1.5</text>
<line x1="951.85" y1="763.25" x2="964.80" y2="763.25" stroke="#000" stroke-width="2.9" />
<text transform="translate(946.85,771.83) scale(1,1.04)" font-size="22.5" font-weight="bold" stroke="#000" stroke-width="0.4" text-anchor="end" >1.0</text>
<line x1="951.85" y1="838.42" x2="964.80" y2="838.42" stroke="#000" stroke-width="2.9" />
<text transform="translate(946.85,847.00) scale(1,1.04)" font-size="22.5" font-weight="bold" stroke="#000" stroke-width="0.4" text-anchor="end" >0.5</text>
<line x1="951.85" y1="913.60" x2="964.80" y2="913.60" stroke="#000" stroke-width="2.9" />
<text transform="translate(946.85,922.18) scale(1,1.04)" font-size="22.5" font-weight="bold" stroke="#000" stroke-width="0.4" text-anchor="end" >0.0</text>
<line x1="963.35" y1="913.60" x2="1415.30" y2="913.60" stroke="#000" stroke-width="2.9" />
<line x1="1011.70" y1="913.60" x2="1011.70" y2="926.55" stroke="#000" stroke-width="2.9" />
<text transform="translate(1011.70,951.80) scale(1,1.04)" font-size="22.5" font-weight="bold" stroke="#000" stroke-width="0.4" text-anchor="middle" >BL</text>
<line x1="1082.80" y1="913.60" x2="1082.80" y2="926.55" stroke="#000" stroke-width="2.9" />
<text transform="translate(1082.80,951.80) scale(1,1.04)" font-size="22.5" font-weight="bold" stroke="#000" stroke-width="0.4" text-anchor="middle" >2</text>
<line x1="1153.90" y1="913.60" x2="1153.90" y2="926.55" stroke="#000" stroke-width="2.9" />
<text transform="translate(1153.90,951.80) scale(1,1.04)" font-size="22.5" font-weight="bold" stroke="#000" stroke-width="0.4" text-anchor="middle" >4</text>
<line x1="1225.00" y1="913.60" x2="1225.00" y2="926.55" stroke="#000" stroke-width="2.9" />
<text transform="translate(1225.00,951.80) scale(1,1.04)" font-size="22.5" font-weight="bold" stroke="#000" stroke-width="0.4" text-anchor="middle" >6</text>
<line x1="1296.10" y1="913.60" x2="1296.10" y2="926.55" stroke="#000" stroke-width="2.9" />
<text transform="translate(1296.10,951.80) scale(1,1.04)" font-size="22.5" font-weight="bold" stroke="#000" stroke-width="0.4" text-anchor="middle" >8</text>
<line x1="1367.20" y1="913.60" x2="1367.20" y2="926.55" stroke="#000" stroke-width="2.9" />
<text transform="translate(1367.20,951.80) scale(1,1.04)" font-size="22.5" font-weight="bold" stroke="#000" stroke-width="0.4" text-anchor="middle" >9</text>
<line x1="1011.70" y1="723.40" x2="1011.70" y2="766.40" stroke="#000" stroke-width="1.5" />
<line x1="1005.10" y1="723.40" x2="1018.30" y2="723.40" stroke="#000" stroke-width="1.5" />
<line x1="1005.10" y1="766.40" x2="1018.30" y2="766.40" stroke="#000" stroke-width="1.5" />
<line x1="1082.80" y1="671.80" x2="1082.80" y2="782.60" stroke="#000" stroke-width="1.5" />
<line x1="1076.20" y1="671.80" x2="1089.40" y2="671.80" stroke="#000" stroke-width="1.5" />
<line x1="1076.20" y1="782.60" x2="1089.40" y2="782.60" stroke="#000" stroke-width="1.5" />
<line x1="1153.90" y1="724.90" x2="1153.90" y2="781.80" stroke="#000" stroke-width="1.5" />
<line x1="1147.30" y1="724.90" x2="1160.50" y2="724.90" stroke="#000" stroke-width="1.5" />
<line x1="1147.30" y1="781.80" x2="1160.50" y2="781.80" stroke="#000" stroke-width="1.5" />
<line x1="1225.00" y1="689.90" x2="1225.00" y2="759.10" stroke="#000" stroke-width="1.5" />
<line x1="1218.40" y1="689.90" x2="1231.60" y2="689.90" stroke="#000" stroke-width="1.5" />
<line x1="1218.40" y1="759.10" x2="1231.60" y2="759.10" stroke="#000" stroke-width="1.5" />
<line x1="1296.10" y1="679.70" x2="1296.10" y2="758.60" stroke="#000" stroke-width="1.5" />
<line x1="1289.50" y1="679.70" x2="1302.70" y2="679.70" stroke="#000" stroke-width="1.5" />
<line x1="1289.50" y1="758.60" x2="1302.70" y2="758.60" stroke="#000" stroke-width="1.5" />
<line x1="1367.20" y1="715.60" x2="1367.20" y2="777.30" stroke="#000" stroke-width="1.5" />
<line x1="1360.60" y1="715.60" x2="1373.80" y2="715.60" stroke="#000" stroke-width="1.5" />
<line x1="1360.60" y1="777.30" x2="1373.80" y2="777.30" stroke="#000" stroke-width="1.5" />
<polyline points="1011.70,744.90 1082.80,727.20 1153.90,753.10 1225.00,724.40 1296.10,719.10 1367.20,746.60" fill="none" stroke="#000" stroke-width="1.5"/>
<circle cx="1011.70" cy="744.90" r="5.8" fill="#000"/>
<circle cx="1082.80" cy="727.20" r="5.8" fill="#000"/>
<circle cx="1153.90" cy="753.10" r="5.8" fill="#000"/>
<circle cx="1225.00" cy="724.40" r="5.8" fill="#000"/>
<circle cx="1296.10" cy="719.10" r="5.8" fill="#000"/>
<circle cx="1367.20" cy="746.60" r="5.8" fill="#000"/>
<line x1="1011.70" y1="752.00" x2="1011.70" y2="794.10" stroke="#000" stroke-width="1.5" />
<line x1="1005.10" y1="752.00" x2="1018.30" y2="752.00" stroke="#000" stroke-width="1.5" />
<line x1="1005.10" y1="794.10" x2="1018.30" y2="794.10" stroke="#000" stroke-width="1.5" />
<line x1="1082.80" y1="891.50" x2="1082.80" y2="900.70" stroke="#000" stroke-width="1.5" />
<line x1="1076.20" y1="891.50" x2="1089.40" y2="891.50" stroke="#000" stroke-width="1.5" />
<line x1="1076.20" y1="900.70" x2="1089.40" y2="900.70" stroke="#000" stroke-width="1.5" />
<line x1="1153.90" y1="881.90" x2="1153.90" y2="904.60" stroke="#000" stroke-width="1.5" />
<line x1="1147.30" y1="881.90" x2="1160.50" y2="881.90" stroke="#000" stroke-width="1.5" />
<line x1="1147.30" y1="904.60" x2="1160.50" y2="904.60" stroke="#000" stroke-width="1.5" />
<line x1="1225.00" y1="873.70" x2="1225.00" y2="901.10" stroke="#000" stroke-width="1.5" />
<line x1="1218.40" y1="873.70" x2="1231.60" y2="873.70" stroke="#000" stroke-width="1.5" />
<line x1="1218.40" y1="901.10" x2="1231.60" y2="901.10" stroke="#000" stroke-width="1.5" />
<line x1="1296.10" y1="882.40" x2="1296.10" y2="907.60" stroke="#000" stroke-width="1.5" />
<line x1="1289.50" y1="882.40" x2="1302.70" y2="882.40" stroke="#000" stroke-width="1.5" />
<line x1="1289.50" y1="907.60" x2="1302.70" y2="907.60" stroke="#000" stroke-width="1.5" />
<line x1="1367.20" y1="882.40" x2="1367.20" y2="906.00" stroke="#000" stroke-width="1.5" />
<line x1="1360.60" y1="882.40" x2="1373.80" y2="882.40" stroke="#000" stroke-width="1.5" />
<line x1="1360.60" y1="906.00" x2="1373.80" y2="906.00" stroke="#000" stroke-width="1.5" />
<polyline points="1011.70,773.50 1082.80,896.10 1153.90,893.40 1225.00,887.40 1296.10,895.70 1367.20,895.70" fill="none" stroke="#000" stroke-width="1.5" stroke-dasharray="5.7 1.9"/>
<rect x="1005.90" y="767.70" width="11.6" height="11.6" fill="none" stroke="#000" stroke-width="1.4"/>
<rect x="1077.00" y="890.30" width="11.6" height="11.6" fill="none" stroke="#000" stroke-width="1.4"/>
<rect x="1148.10" y="887.60" width="11.6" height="11.6" fill="none" stroke="#000" stroke-width="1.4"/>
<rect x="1219.20" y="881.60" width="11.6" height="11.6" fill="none" stroke="#000" stroke-width="1.4"/>
<rect x="1290.30" y="889.90" width="11.6" height="11.6" fill="none" stroke="#000" stroke-width="1.4"/>
<rect x="1361.40" y="889.90" width="11.6" height="11.6" fill="none" stroke="#000" stroke-width="1.4"/>
<line x1="1011.70" y1="742.20" x2="1011.70" y2="756.00" stroke="#000" stroke-width="1.5" />
<line x1="1005.10" y1="742.20" x2="1018.30" y2="742.20" stroke="#000" stroke-width="1.5" />
<line x1="1005.10" y1="756.00" x2="1018.30" y2="756.00" stroke="#000" stroke-width="1.5" />
<line x1="1082.80" y1="816.10" x2="1082.80" y2="854.80" stroke="#000" stroke-width="1.5" />
<line x1="1076.20" y1="816.10" x2="1089.40" y2="816.10" stroke="#000" stroke-width="1.5" />
<line x1="1076.20" y1="854.80" x2="1089.40" y2="854.80" stroke="#000" stroke-width="1.5" />
<line x1="1153.90" y1="815.50" x2="1153.90" y2="860.40" stroke="#000" stroke-width="1.5" />
<line x1="1147.30" y1="815.50" x2="1160.50" y2="815.50" stroke="#000" stroke-width="1.5" />
<line x1="1147.30" y1="860.40" x2="1160.50" y2="860.40" stroke="#000" stroke-width="1.5" />
<line x1="1225.00" y1="839.80" x2="1225.00" y2="876.40" stroke="#000" stroke-width="1.5" />
<line x1="1218.40" y1="839.80" x2="1231.60" y2="839.80" stroke="#000" stroke-width="1.5" />
<line x1="1218.40" y1="876.40" x2="1231.60" y2="876.40" stroke="#000" stroke-width="1.5" />
<line x1="1296.10" y1="833.90" x2="1296.10" y2="873.60" stroke="#000" stroke-width="1.5" />
<line x1="1289.50" y1="833.90" x2="1302.70" y2="833.90" stroke="#000" stroke-width="1.5" />
<line x1="1289.50" y1="873.60" x2="1302.70" y2="873.60" stroke="#000" stroke-width="1.5" />
<line x1="1367.20" y1="833.40" x2="1367.20" y2="870.90" stroke="#000" stroke-width="1.5" />
<line x1="1360.60" y1="833.40" x2="1373.80" y2="833.40" stroke="#000" stroke-width="1.5" />
<line x1="1360.60" y1="870.90" x2="1373.80" y2="870.90" stroke="#000" stroke-width="1.5" />
<polyline points="1011.70,748.30 1082.80,835.60 1153.90,837.70 1225.00,858.40 1296.10,853.90 1367.20,852.10" fill="none" stroke="#000" stroke-width="1.5" stroke-dasharray="5.7 1.9"/>
<rect x="1005.90" y="742.50" width="11.6" height="11.6" fill="#000"/>
<rect x="1077.00" y="829.80" width="11.6" height="11.6" fill="#000"/>
<rect x="1148.10" y="831.90" width="11.6" height="11.6" fill="#000"/>
<rect x="1219.20" y="852.60" width="11.6" height="11.6" fill="#000"/>
<rect x="1290.30" y="848.10" width="11.6" height="11.6" fill="#000"/>
<rect x="1361.40" y="846.30" width="11.6" height="11.6" fill="#000"/>
<text x="1089.30" y="888.00" font-size="24" stroke="#000" stroke-width="0.4" text-anchor="start" >##</text>
<text x="1168.90" y="888.00" font-size="24" stroke="#000" stroke-width="0.4" text-anchor="start" >##</text>
<text x="1239.50" y="888.00" font-size="24" stroke="#000" stroke-width="0.4" text-anchor="start" >##</text>
<text x="1308.70" y="888.00" font-size="24" stroke="#000" stroke-width="0.4" text-anchor="start" >##</text>
<text x="1378.10" y="888.00" font-size="24" stroke="#000" stroke-width="0.4" text-anchor="start" >##</text>
<text x="1225.40" y="843.30" font-size="23" font-weight="bold" stroke="#000" stroke-width="0.5" text-anchor="middle" >#</text>
<text x="1219.30" y="984.90" font-size="24.1" stroke="#000" stroke-width="0.4" text-anchor="start" >weeks after trauma</text>
<text transform="translate(869.3,763.9) rotate(-90)" font-size="24.2" font-weight="bold" stroke="#000" stroke-width="0.5" text-anchor="middle">ipsilateral/contralateral</text>
<text transform="translate(899.0,763.9) rotate(-90)" font-size="24.2" font-weight="bold" stroke="#000" stroke-width="0.5" text-anchor="middle">paw use, ratio</text>
<line x1="1428.30" y1="634.60" x2="1461.80" y2="634.60" stroke="#000" stroke-width="1.5" />
<circle cx="1444.80" cy="634.60" r="5.8" fill="#000"/>
<text x="1479.20" y="643.40" font-size="24.2" stroke="#000" stroke-width="0.4" text-anchor="start" >sham</text>
<line x1="1428.30" y1="676.80" x2="1461.80" y2="676.80" stroke="#000" stroke-width="1.5" stroke-dasharray="5.7 1.9" stroke-dashoffset="2.5"/>
<rect x="1438.70" y="670.70" width="12.2" height="12.2" fill="none" stroke="#000" stroke-width="1.4"/>
<text x="1479.20" y="685.50" font-size="24.2" stroke="#000" stroke-width="0.4" text-anchor="start" >trauma + PBS</text>
<line x1="1428.30" y1="718.90" x2="1461.80" y2="718.90" stroke="#000" stroke-width="1.5" stroke-dasharray="5.7 1.9" stroke-dashoffset="2.5"/>
<rect x="1438.70" y="712.80" width="12.2" height="12.2" fill="#000"/>
<text x="1479.20" y="727.50" font-size="24.2" stroke="#000" stroke-width="0.4" text-anchor="start" >trauma + LMWP</text>
</g>
</svg></body></html>
